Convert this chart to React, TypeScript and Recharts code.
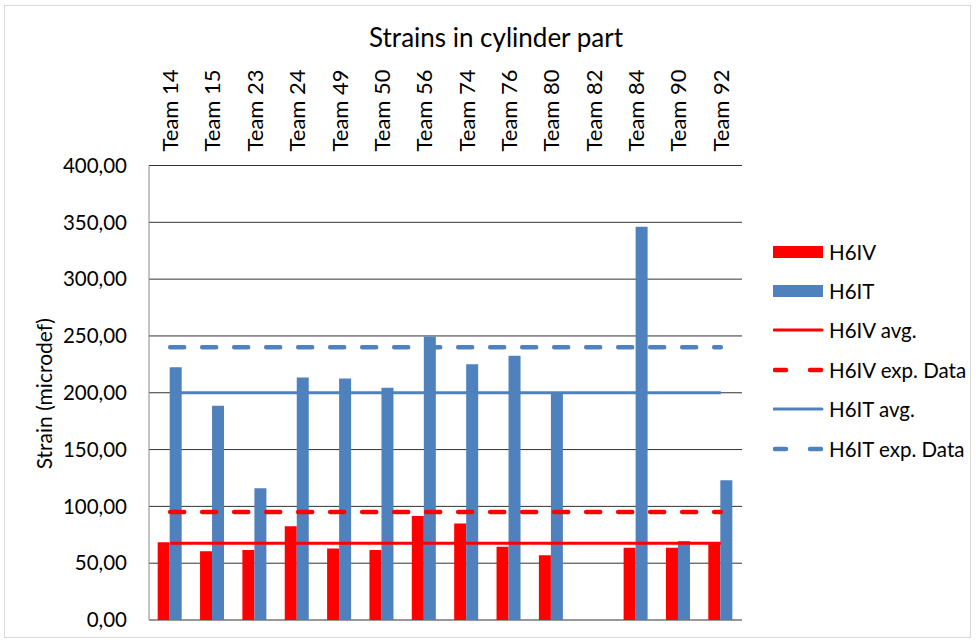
import { ComposedChart, Bar, Line, XAxis, YAxis, CartesianGrid } from 'recharts';

const teams = ['Team 14', 'Team 15', 'Team 23', 'Team 24', 'Team 49', 'Team 50', 'Team 56', 'Team 74', 'Team 76', 'Team 80', 'Team 82', 'Team 84', 'Team 90', 'Team 92'];
const h6iv = [68.5, 60.5, 61.5, 82.5, 63, 61.5, 91.5, 85, 64.5, 57, null, 63.5, 63.5, 67.5];
const h6it = [222.5, 188.5, 116, 213.5, 212.5, 204.5, 249.5, 225, 232.5, 200, null, 346, 69.5, 123];
const h6ivAvg = 67.5;
const h6ivExp = 95;
const h6itAvg = 200;
const h6itExp = 240;
const yTicks = [0, 50, 100, 150, 200, 250, 300, 350, 400];

const RED = '#FF0000';
const BLUE = '#4F81BD';
const FONT = 'Lato, "Open Sans", sans-serif';

const rows = teams.map((team, i) => ({
  team,
  h6iv: h6iv[i],
  h6it: h6it[i],
  ivAvg: h6ivAvg,
  ivExp: h6ivExp,
  itAvg: h6itAvg,
  itExp: h6itExp,
}));

const legendItems = [
  { label: 'H6IV', color: RED, kind: 'bar' },
  { label: 'H6IT', color: BLUE, kind: 'bar' },
  { label: 'H6IV avg.', color: RED, kind: 'line' },
  { label: 'H6IV exp. Data', color: RED, kind: 'dash' },
  { label: 'H6IT avg.', color: BLUE, kind: 'line' },
  { label: 'H6IT exp. Data', color: BLUE, kind: 'dash' },
];

const TopTick = ({ x, y, payload }: any) => (
  <text
    transform={`translate(${x},${y}) rotate(-90)`}
    x={0}
    y={0}
    dy="0.36em"
    textAnchor="start"
    fontSize={22}
    fontFamily={FONT}
    fill="#000"
  >
    {payload.value}
  </text>
);

const YTitle = ({ viewBox }: any) => {
  const cx = viewBox.x + 22;
  const cy = viewBox.y + viewBox.height / 2 + 1;
  return (
    <text
      x={cx}
      y={cy}
      transform={`rotate(-90, ${cx}, ${cy})`}
      textAnchor="middle"
      fontSize={21}
      fontFamily={FONT}
      fill="#000"
    >
      Strain (microdef)
    </text>
  );
};

const LegendBox = () => (
  <div style={{ position: 'absolute', left: 773, top: 232, fontFamily: FONT, fontSize: 20.5 }}>
    {legendItems.map((it) => (
      <div key={it.label} style={{ display: 'flex', alignItems: 'center', height: 39.4 }}>
        <svg width={56} height={14}>
          {it.kind === 'bar' && <rect x={0} y={1} width={50} height={12} fill={it.color} />}
          {it.kind === 'line' && <line x1={1} y1={7} x2={49} y2={7} stroke={it.color} strokeWidth={3} strokeLinecap="round" />}
          {it.kind === 'dash' && (
            <line x1={2} y1={7} x2={48} y2={7} stroke={it.color} strokeWidth={4.5} strokeLinecap="round" strokeDasharray="11 24" />
          )}
        </svg>
        <span style={{ color: '#000', whiteSpace: 'nowrap' }}>{it.label}</span>
      </div>
    ))}
  </div>
);

export default function App() {
  return (
    <div style={{ position: 'absolute', left: 0, top: 0, width: 976, height: 642, background: '#fff' }}>
      <div style={{ position: 'absolute', left: 4, top: 5, width: 965, height: 631, border: '1px solid #d9d9d9' }} />
      <div
        style={{
          position: 'absolute',
          left: 8,
          top: 21,
          width: 976,
          textAlign: 'center',
          fontFamily: FONT,
          fontSize: 26,
          color: '#000',
        }}
      >
        Strains in cylinder part
      </div>
      <div style={{ position: 'absolute', left: 0, top: 0 }}>
        <ComposedChart
          width={976}
          height={642}
          data={rows}
          margin={{ top: 65.5, right: 234, bottom: 22, left: 30 }}
          barCategoryGap="20.5%"
          barGap={0}
        >
          <CartesianGrid vertical={false} stroke="#333" yAxisId="left" />
          <XAxis
            dataKey="team"
            orientation="top"
            height={100}
            axisLine={false}
            tickLine={false}
            tickSize={0}
            tickMargin={14}
            interval={0}
            tick={<TopTick />}
          />
          <YAxis
            yAxisId="left"
            width={119}
            domain={[0, 400]}
            ticks={yTicks}
            interval={0}
            axisLine={{ stroke: '#868686' }}
            tickLine={false}
            tickSize={6}
            tickMargin={16}
            tick={{ fill: '#000', fontSize: 20.5, fontFamily: FONT }}
            tickFormatter={(v: number) => v.toFixed(2).replace('.', ',')}
            label={{ content: <YTitle /> }}
          />
          <YAxis
            yAxisId="right"
            orientation="right"
            width={0}
            domain={[0, 400]}
            tick={false}
            tickLine={false}
            axisLine={{ stroke: '#333' }}
          />
          <Bar yAxisId="left" dataKey="h6iv" name="H6IV" fill={RED} isAnimationActive={false} />
          <Bar yAxisId="left" dataKey="h6it" name="H6IT" fill={BLUE} isAnimationActive={false} />
          <Line yAxisId="left" dataKey="ivAvg" name="H6IV avg." stroke={RED} strokeWidth={3} dot={false} activeDot={false} isAnimationActive={false} />
          <Line
            yAxisId="left"
            dataKey="ivExp"
            name="H6IV exp. Data"
            stroke={RED}
            strokeWidth={4.5}
            strokeLinecap="round"
            strokeDasharray="14 18"
            dot={false}
            activeDot={false}
            isAnimationActive={false}
          />
          <Line yAxisId="left" dataKey="itAvg" name="H6IT avg." stroke={BLUE} strokeWidth={3} dot={false} activeDot={false} isAnimationActive={false} />
          <Line
            yAxisId="left"
            dataKey="itExp"
            name="H6IT exp. Data"
            stroke={BLUE}
            strokeWidth={4.5}
            strokeLinecap="round"
            strokeDasharray="14 18"
            dot={false}
            activeDot={false}
            isAnimationActive={false}
          />
        </ComposedChart>
      </div>
      <LegendBox />
    </div>
  );
}
